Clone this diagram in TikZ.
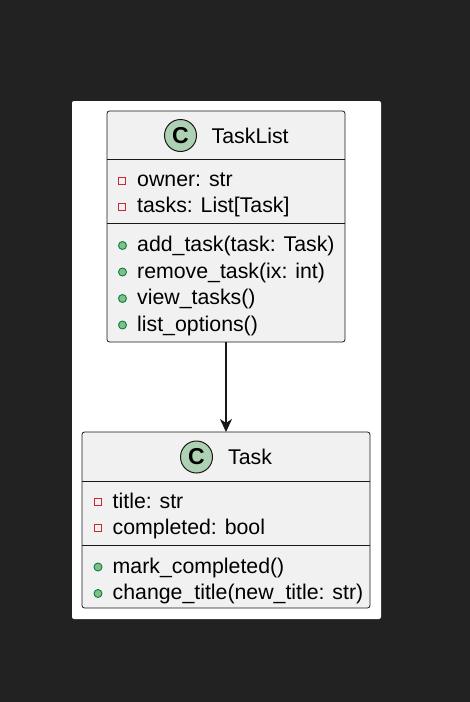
\documentclass[tikz,border=0pt]{standalone}
\usepackage{fontspec}
\setmainfont{Liberation Sans}
\usetikzlibrary{arrows.meta}

\definecolor{pagebg}{HTML}{222222}
\definecolor{classfill}{HTML}{F1F1F1}
\definecolor{edge}{HTML}{181818}
\definecolor{badge}{HTML}{ADD1B2}
\definecolor{privred}{HTML}{C82930}
\definecolor{pubfill}{HTML}{84BE84}
\definecolor{publine}{HTML}{038048}

\begin{document}
\begin{tikzpicture}[x=1pt, y=-1pt,
  classbox/.style={draw=edge, line width=0.8pt, fill=classfill, rounded corners=2.5pt,
                   inner sep=0pt, outer sep=0pt},
  member/.style={anchor=base west, inner sep=0pt, font=\fontsize{21.3}{25}\selectfont, text=black},
  classname/.style={anchor=base west, inner sep=0pt, font=\fontsize{21.3}{25}\selectfont, text=black},
  badgec/.style={circle, draw=edge, line width=1pt, fill=badge, minimum size=32pt,
                 inner sep=0pt, font=\fontsize{23}{24}\selectfont\bfseries},
  privicon/.style={draw=privred, line width=1pt, minimum size=7pt, inner sep=0pt},
  pubicon/.style={circle, draw=publine, fill=pubfill, line width=0.9pt, minimum size=8pt, inner sep=0pt},
  sep/.style={draw=edge, line width=0.8pt},
  assoc/.style={draw=edge, line width=1.1pt, -{Stealth[length=13pt, width=12pt, inset=4pt]}}
]
% canvas
\fill[pagebg] (0,0) rectangle (470,702);
\useasboundingbox (0,0) rectangle (470,702);
\fill[white, rounded corners=2pt] (72,101) rectangle (381,619);

% ---- class TaskList ----
\node[classbox, minimum width=238pt, minimum height=231pt] (tasklist) at (226,226.5) {};
\node[badgec] (tlbadge) at (180.5,135.5) {C};
\node[classname] (tlname) at (211.5,143) {TaskList};
\draw[sep] (107,159) -- (345,159);
\node[privicon] (tla1i) at (122,180.5) {};
\node[member] (tla1) at (137,186.5) {owner: str};
\node[privicon] (tla2i) at (122,206.5) {};
\node[member] (tla2) at (137,212.5) {tasks: List[Task]};
\draw[sep] (107,223) -- (345,223);
\node[pubicon] (tlm1i) at (122.5,245.5) {};
\node[member] (tlm1) at (137,251.5) {add\_task(task: Task)};
\node[pubicon] (tlm2i) at (122.5,272) {};
\node[member] (tlm2) at (137,278) {remove\_task(ix: int)};
\node[pubicon] (tlm3i) at (122.5,298.5) {};
\node[member] (tlm3) at (137,304.5) {view\_tasks()};
\node[pubicon] (tlm4i) at (122.5,325) {};
\node[member] (tlm4) at (137,331) {list\_options()};

% ---- class Task ----
\node[classbox, minimum width=288pt, minimum height=176pt] (task) at (226,520) {};
\node[badgec] (tkbadge) at (196.5,457) {C};
\node[classname] (tkname) at (228,464.5) {Task};
\draw[sep] (82,481) -- (370,481);
\node[privicon] (tka1i) at (97.5,502) {};
\node[member] (tka1) at (112.5,508) {title: str};
\node[privicon] (tka2i) at (97.5,528) {};
\node[member] (tka2) at (112.5,534) {completed: bool};
\draw[sep] (82,545) -- (370,545);
\node[pubicon] (tkm1i) at (98,567) {};
\node[member] (tkm1) at (112.5,573) {mark\_completed()};
\node[pubicon] (tkm2i) at (98,593.5) {};
\node[member] (tkm2) at (112.5,599.5) {change\_title(new\_title: str)};

% association
\draw[assoc] (tasklist.south) -- (task.north);
\end{tikzpicture}
\end{document}
